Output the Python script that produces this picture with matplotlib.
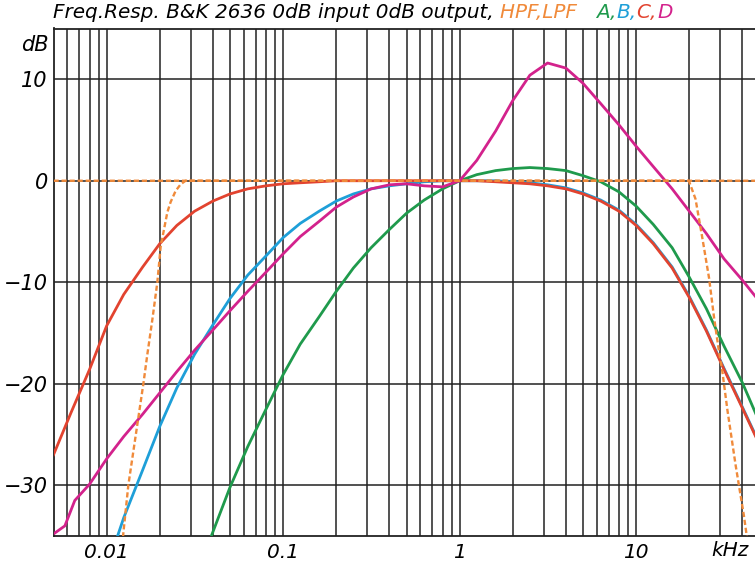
import matplotlib
matplotlib.use("Agg")
import matplotlib.pyplot as plt
from matplotlib.ticker import FixedLocator, NullFormatter, NullLocator

# third-octave frequencies, kHz
freq_third = [0.01, 0.0125, 0.016, 0.02, 0.025, 0.0315, 0.04, 0.05, 0.063, 0.08,
              0.1, 0.125, 0.16, 0.2, 0.25, 0.315, 0.4, 0.5, 0.63, 0.8,
              1, 1.25, 1.6, 2, 2.5, 3.15, 4, 5, 6.3, 8,
              10, 12.5, 16, 20, 25, 31.5, 40, 50]

# A weighting (from 31.5 Hz)
a_freq = freq_third[5:]
a_db = [-39.4, -34.6, -30.2, -26.2, -22.5, -19.1, -16.1, -13.4, -10.9, -8.6,
        -6.6, -4.8, -3.2, -1.9, -0.8, 0.0, 0.6, 1.0, 1.2, 1.3,
        1.2, 1.0, 0.5, -0.1, -1.1, -2.5, -4.3, -6.6, -9.5, -12.6,
        -16.3, -19.9, -23.8]

# B weighting
b_freq = freq_third
b_db = [-38.2, -33.2, -28.5, -24.2, -20.4, -17.1, -14.2, -11.6, -9.3, -7.4,
        -5.6, -4.2, -3.0, -2.0, -1.3, -0.8, -0.5, -0.3, -0.1, 0.0,
        0.0, 0.0, 0.0, -0.1, -0.2, -0.4, -0.7, -1.2, -1.9, -2.9,
        -4.3, -6.1, -8.5, -11.4, -14.7, -18.5, -22.3, -25.9]

# C weighting
c_freq = [0.005, 0.0063, 0.008] + freq_third
c_db = [-27.0, -22.8, -18.6,
        -14.3, -11.2, -8.5, -6.2, -4.4, -3.0, -2.0, -1.3, -0.8, -0.5,
        -0.3, -0.2, -0.1, 0.0, 0.0, 0.0, 0.0, 0.0, 0.0, 0.0,
        0.0, 0.0, -0.1, -0.2, -0.3, -0.5, -0.8, -1.3, -2.0, -3.0,
        -4.4, -6.2, -8.6, -11.5, -14.8, -18.6, -22.4, -26.0]

# D weighting
d_freq = [0.005, 0.0058, 0.0066, 0.008] + freq_third
d_db = [-34.8, -34.0, -31.5, -29.9,
        -27.4, -25.2, -23.0, -20.9, -18.8, -16.7, -14.7, -12.8, -10.9, -9.0,
        -7.2, -5.5, -4.0, -2.6, -1.6, -0.8, -0.4, -0.3, -0.5, -0.6,
        0.0, 2.0, 4.9, 7.9, 10.4, 11.6, 11.1, 9.6, 7.6, 5.5,
        3.4, 1.4, -0.8, -3.0, -5.2, -7.7, -9.8, -11.9]

# high pass / low pass filters
hpf_freq = [0.0120, 0.01244, 0.01327, 0.01493, 0.01615, 0.01701, 0.01815,
            0.01938, 0.02023, 0.02208, 0.02304, 0.0246, 0.02626, 0.028, 50]
hpf_db = [-37.5, -34.7, -30.0, -24.0, -20.0, -17.1, -13.7,
          -10.0, -6.5, -3.1, -2.1, -1.0, -0.35, 0.0, 0.0]
lpf_freq = [0.005, 19.9, 21.7, 23.7, 25.9, 27.6, 29.4, 30.8, 32.9,
            36.6, 40.8, 42.1, 44.0]
lpf_db = [0.0, 0.0, -1.8, -5.6, -9.6, -13.4, -16.7, -18.8, -22.6,
          -28.0, -33.0, -34.7, -37.0]

x_ticks = [0.01, 0.1, 1, 10]
x_labels = ["0.01", "0.1", "1", "10"]
y_ticks = [10, 0, -10, -20, -30]
y_labels = ["10", "0", "\u221210", "\u221220", "\u221230"]

ORANGE = "#F08A3A"
GREEN = "#1F9A4C"
BLUE = "#1E9FD8"
RED = "#E2432F"
MAGENTA = "#D3228C"
GRID = "#222222"

plt.rcParams["font.family"] = ["DejaVu Sans"]
plt.rcParams["font.style"] = "italic"

fig = plt.figure(figsize=(7.55, 5.62), dpi=100)
W, H = 755, 562
ax = fig.add_axes([53.5 / W, 26 / H, 706 / W, 507.5 / H])

ax.set_xscale("log")
ax.set_xlim(0.005, 50)
ax.set_ylim(-35, 15)

# grid: every 1..9 in each decade, every 10 dB
vlines = [m * 10.0 ** e for e in range(-3, 2) for m in range(1, 10)]
vlines = [v for v in vlines if 0.005 < v < 50]
for v in vlines:
    ax.axvline(v, color=GRID, lw=1.1, zorder=1)
for h in y_ticks:
    ax.axhline(h, color=GRID, lw=1.1, zorder=1)

lw = 2.0
ax.plot(a_freq, a_db, color=GREEN, lw=lw, zorder=3)
ax.plot(b_freq, b_db, color=BLUE, lw=lw, zorder=3)
ax.plot(c_freq, c_db, color=RED, lw=lw, zorder=3)
ax.plot(d_freq, d_db, color=MAGENTA, lw=lw, zorder=3)
ax.plot(hpf_freq, hpf_db, color=ORANGE, lw=1.7, ls=(0, (2.2, 1.2)), zorder=4)
ax.plot(lpf_freq, lpf_db, color=ORANGE, lw=1.7, ls=(0, (2.2, 1.2)), zorder=4)

ax.xaxis.set_major_locator(FixedLocator(x_ticks))
ax.xaxis.set_minor_locator(NullLocator())
ax.xaxis.set_minor_formatter(NullFormatter())
ax.set_xticklabels(x_labels)
ax.set_yticks(y_ticks)
ax.set_yticklabels(y_labels)
ax.tick_params(length=0, labelsize=15, colors="black")
ax.tick_params(axis="x", pad=5, labelsize=14.5)
ax.tick_params(axis="y", pad=4)

for s in ax.spines.values():
    s.set_color(GRID)
    s.set_linewidth(1.3)

fig.text(49 / W, 1 - 45 / H, "dB", ha="right", va="center", fontsize=15)
fig.text(730 / W, 1 - 551 / H, "kHz", ha="center", va="center", fontsize=14.5)

# title in coloured pieces
pieces = [("Freq.Resp. B&K 2636 0dB input 0dB output, ", "black"),
          ("HPF,LPF   ", ORANGE), ("A,", GREEN), ("B,", BLUE),
          ("C,", RED), ("D", MAGENTA)]
fig.canvas.draw()
renderer = fig.canvas.get_renderer()
x0 = 53
for txt, col in pieces:
    t = fig.text(x0 / W, 1 - 12 / H, txt, color=col, fontsize=14.4,
                 ha="left", va="center")
    bb = t.get_window_extent(renderer)
    x0 = bb.x1

fig.savefig("out.png", dpi=100)
